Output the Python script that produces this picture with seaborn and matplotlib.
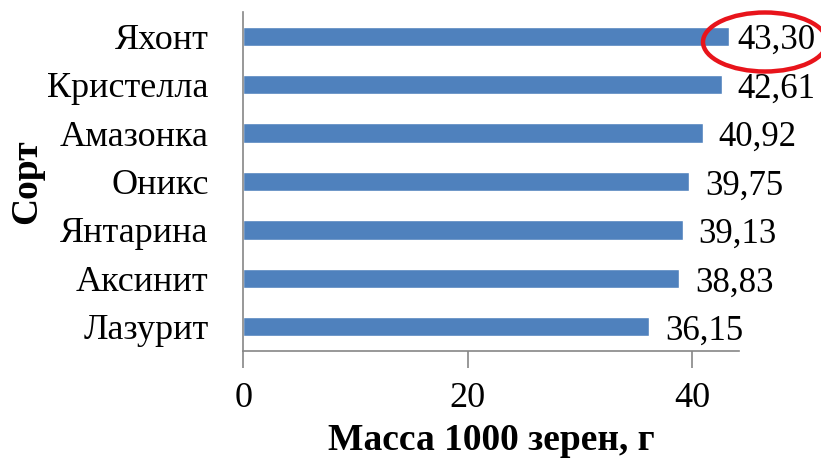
import matplotlib
matplotlib.use("Agg")
import matplotlib.pyplot as plt
from matplotlib.patches import Ellipse
import seaborn as sns
import pandas as pd

# Thousand-grain weight by variety
varieties = ["Яхонт", "Кристелла", "Амазонка", "Оникс", "Янтарина", "Аксинит", "Лазурит"]
mass = [43.30, 42.61, 40.92, 39.75, 39.13, 38.83, 36.15]
x_ticks = [0, 20, 40]

df = pd.DataFrame({"Сорт": varieties, "Масса": mass})

sns.set_theme(style="white")
plt.rcParams["font.family"] = ["Liberation Serif", "DejaVu Serif"]
plt.rcParams["text.color"] = "black"
plt.rcParams["axes.labelcolor"] = "black"

DPI = 100
fig = plt.figure(figsize=(8.21, 4.58), dpi=DPI)
ax = fig.add_axes([0.2963, 0.2336, 0.6038, 0.7402])

sns.barplot(data=df, x="Масса", y="Сорт", order=varieties, orient="h",
            color="#4F81BD", saturation=1, width=0.4, ax=ax)

ax.set_xlim(0, 44.16)
ax.set_ylim(6.5, -0.5)
ax.set_xticks(x_ticks)
ax.set_xticklabels([str(t) for t in x_ticks])

# Value labels: placed just past each bar, kept inside the chart area
label_pad_px = 16
label_max_left_px = 737
baseline_drop_px = 13
for i, v in enumerate(mass):
    bar_end_px = ax.transData.transform((v, i))[0]
    offset_px = min(label_pad_px, label_max_left_px - bar_end_px)
    ax.annotate(f"{v:.2f}".replace(".", ","), xy=(v, i),
                xytext=(offset_px * 72 / DPI, -baseline_drop_px * 72 / DPI),
                textcoords="offset points",
                ha="left", va="baseline", fontsize=25, color="black",
                annotation_clip=False)

grey = "#868686"
for side in ("top", "right"):
    ax.spines[side].set_visible(False)
for side in ("left", "bottom"):
    ax.spines[side].set_color(grey)
    ax.spines[side].set_linewidth(1.2)

ax.tick_params(axis="x", direction="out", length=12, width=1.2, color=grey,
               labelsize=26, pad=10, labelcolor="black", bottom=True)
ax.tick_params(axis="y", length=0, labelsize=26, pad=25, labelcolor="black")

ax.set_xlabel("Масса 1000 зерен, г", fontsize=27, fontweight="bold", labelpad=6)
ax.set_ylabel("Сорт", fontsize=27, fontweight="bold", labelpad=2)

# Highlight the top value
fig.patches.append(Ellipse((765 / 821, 1 - 42 / 458), 124 / 821, 59 / 458,
                           transform=fig.transFigure, fill=False,
                           edgecolor="#E8141B", linewidth=3.2))

fig.savefig("out.png", dpi=DPI)
